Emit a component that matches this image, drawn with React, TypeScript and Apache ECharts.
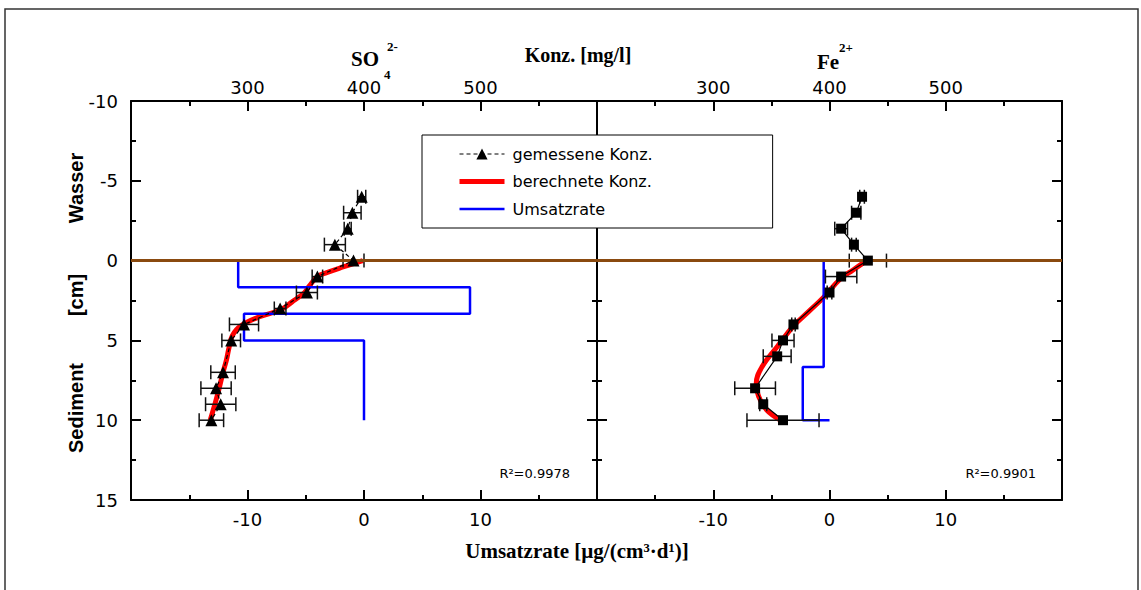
import React, { useEffect, useRef } from 'react';
import * as echarts from 'echarts';

// ---- data ----
// SO4 panel: measured concentration [mg/l] vs depth [cm]
const so4Depth = [-4, -3, -2, -1, 0, 1, 2, 3, 4, 5, 7, 8, 9, 10];
const so4Conc = [398, 390, 386, 375, 391, 360, 351, 328, 297, 286, 279, 273, 277, 269];
const so4Err = [3.5, 7.5, 3, 9, 9, 4.5, 9, 5, 12.5, 8, 10.5, 13, 13, 10.5];
// SO4 calculated concentration
const so4FitDepth = [0, 0.4, 0.75, 1.0, 1.6, 2.0, 2.6, 3.1, 3.5, 4.1, 4.7, 5.5, 6.2, 7.0, 8.2, 9.0, 10];
const so4FitConc = [399, 382, 368, 360, 353, 349, 338, 328, 311, 294, 287, 284, 282, 279, 275, 272, 268];
// SO4 turnover rate (step profile)
const so4RateDepth = [0, 1.67, 1.67, 3.33, 3.33, 5, 5, 10];
const so4Rate = [-10.8, -10.8, 9.1, 9.1, -10.3, -10.3, 0, 0];

// Fe panel
const feDepth = [-4, -3, -2, -1, 0, 1, 2, 4, 5, 6, 8, 9, 10];
const feConc = [428, 423, 410, 421, 433, 410, 400, 369, 360, 355, 336, 343, 360];
const feErr = [2, 4, 5.5, 2, 16, 13.5, 2, 1.5, 9.5, 12, 17.5, 3, 31];
const feFitDepth = [0.05, 0.6, 1.17, 2.3, 3.2, 4.1, 5.4, 6.65, 7.7, 8.5, 9.36, 10];
const feFitConc = [431, 420, 409, 395, 382, 369, 355, 342, 337, 339, 346, 358];
const feRateDepth = [0, 6.67, 6.67, 10, 10];
const feRate = [-0.5, -0.5, -2.3, -2.3, 0];

// axes
const depthMin = -10, depthMax = 15, depthStep = 5;
const concMin = 200, concMax = 600, concStep = 100;
const rateMin = -20, rateMax = 20, rateStep = 10;

const legendNames = ['gemessene Konz.', 'berechnete Konz.', 'Umsatzrate'];
const r2Labels = ['R²=0.9978', 'R²=0.9901'];

const SANS = 'DejaVu Sans';
const SERIF = 'Liberation Serif';
const BROWN = '#8a4a0f';

const zip = (xs: number[], ys: number[]) => xs.map((x, i) => [x, ys[i]]);

const errRender = (params: any, api: any) => {
  const lo = api.coord([api.value(0), api.value(2)]);
  const hi = api.coord([api.value(1), api.value(2)]);
  const h = 7;
  const style = { stroke: '#111', lineWidth: 1.5 };
  return {
    type: 'group',
    children: [
      { type: 'line', shape: { x1: lo[0], y1: lo[1], x2: hi[0], y2: hi[1] }, style },
      { type: 'line', shape: { x1: lo[0], y1: lo[1] - h, x2: lo[0], y2: lo[1] + h }, style },
      { type: 'line', shape: { x1: hi[0], y1: hi[1] - h, x2: hi[0], y2: hi[1] + h }, style },
    ],
  };
};

const axisBase = (extra: any) => ({
  type: 'value',
  axisLine: { show: true, onZero: false, lineStyle: { color: '#000', width: 2 } },
  axisTick: { show: true, inside: true, length: 10, lineStyle: { color: '#000', width: 2 } },
  minorTick: { show: true, splitNumber: 2, length: 5, lineStyle: { color: '#000', width: 2 } },
  splitLine: { show: false },
  minorSplitLine: { show: false },
  ...extra,
});

const labelStyle = (show: boolean, margin: number) => ({
  show,
  margin,
  color: '#000',
  fontFamily: SANS,
  fontSize: 18,
  showMinLabel: false,
  showMaxLabel: false,
});

export default function App() {
  const ref = useRef<HTMLDivElement>(null);
  useEffect(() => {
    if (!ref.current) return;
    const chart = echarts.init(ref.current, undefined, { renderer: 'svg' });

    const markLine = {
      silent: true,
      symbol: ['none', 'none'],
      label: { show: false },
      lineStyle: { color: BROWN, width: 3, type: 'solid' },
      data: [{ yAxis: 0 }],
    };

    const hiddenSymbol = { color: 'rgba(0,0,0,0)', borderWidth: 0, opacity: 0 };

    const option: any = {
      animation: false,
      backgroundColor: '#fff',
      grid: [
        { left: 131, top: 101, width: 466, height: 399 },
        { left: 597, top: 101, width: 465, height: 399 },
      ],
      xAxis: [
        axisBase({ gridIndex: 0, position: 'bottom', min: rateMin, max: rateMax, interval: rateStep, axisLabel: labelStyle(true, 10) }),
        axisBase({ gridIndex: 0, position: 'top', min: concMin, max: concMax, interval: concStep, axisLabel: labelStyle(true, 5) }),
        axisBase({ gridIndex: 1, position: 'bottom', min: rateMin, max: rateMax, interval: rateStep, axisLabel: labelStyle(true, 10) }),
        axisBase({ gridIndex: 1, position: 'top', min: concMin, max: concMax, interval: concStep, axisLabel: labelStyle(true, 5) }),
      ],
      yAxis: [
        axisBase({ gridIndex: 0, position: 'left', inverse: true, min: depthMin, max: depthMax, interval: depthStep,
          axisLabel: { ...labelStyle(true, 13), showMinLabel: true, showMaxLabel: true } }),
        axisBase({ gridIndex: 0, position: 'right', inverse: true, min: depthMin, max: depthMax, interval: depthStep, axisLabel: { show: false } }),
        axisBase({ gridIndex: 1, position: 'left', inverse: true, min: depthMin, max: depthMax, interval: depthStep, axisLabel: { show: false } }),
        axisBase({ gridIndex: 1, position: 'right', inverse: true, min: depthMin, max: depthMax, interval: depthStep, axisLabel: { show: false } }),
      ],
      legend: {
        show: true,
        orient: 'vertical',
        left: 422,
        top: 135,
        padding: [11, 120, 11, 35],
        itemWidth: 45,
        itemHeight: 14,
        itemGap: 11.5,
        backgroundColor: '#fff',
        borderColor: '#000',
        borderWidth: 1,
        borderRadius: 0,
        selectedMode: false,
        textStyle: { color: '#000', fontFamily: SANS, fontSize: 16, padding: [0, 0, 0, 3] },
        data: [
          { name: legendNames[0], lineStyle: { color: '#000', width: 1, type: [4, 3] } },
          { name: legendNames[1], lineStyle: { color: '#f00', width: 5 }, itemStyle: hiddenSymbol },
          { name: legendNames[2], lineStyle: { color: '#00f', width: 2.5 }, itemStyle: hiddenSymbol },
        ],
      },
      series: [
        {
          name: legendNames[0], type: 'line', xAxisIndex: 1, yAxisIndex: 0, z: 6,
          data: zip(so4Conc, so4Depth),
          symbol: 'triangle', symbolSize: 12,
          itemStyle: { color: '#000' },
          lineStyle: { color: '#000', width: 1.2, type: [4, 3] },
        },
        {
          name: legendNames[0], type: 'line', xAxisIndex: 3, yAxisIndex: 2, z: 6,
          data: zip(feConc, feDepth),
          symbol: 'rect', symbolSize: 10,
          itemStyle: { color: '#000' },
          lineStyle: { color: '#000', width: 1.2 },
        },
        {
          name: legendNames[1], type: 'line', xAxisIndex: 1, yAxisIndex: 0, z: 2,
          data: zip(so4FitConc, so4FitDepth), smooth: 0.4, symbol: 'none',
          lineStyle: { color: '#f00', width: 5 }, itemStyle: { color: '#f00' },
          markLine,
        },
        {
          name: legendNames[1], type: 'line', xAxisIndex: 3, yAxisIndex: 2, z: 2,
          data: zip(feFitConc, feFitDepth), smooth: 0.4, symbol: 'none',
          lineStyle: { color: '#f00', width: 5 }, itemStyle: { color: '#f00' },
          markLine,
        },
        {
          name: legendNames[2], type: 'line', xAxisIndex: 0, yAxisIndex: 0, z: 3,
          data: zip(so4Rate, so4RateDepth), symbol: 'none',
          lineStyle: { color: '#00f', width: 2.5 }, itemStyle: { color: '#00f' },
        },
        {
          name: legendNames[2], type: 'line', xAxisIndex: 2, yAxisIndex: 2, z: 3,
          data: zip(feRate, feRateDepth), symbol: 'none',
          lineStyle: { color: '#00f', width: 2.5 }, itemStyle: { color: '#00f' },
        },
        {
          name: 'err-so4', type: 'custom', xAxisIndex: 1, yAxisIndex: 0, z: 4,
          renderItem: errRender, encode: { x: [0, 1], y: 2 },
          data: so4Depth.map((d, i) => [so4Conc[i] - so4Err[i], so4Conc[i] + so4Err[i], d]),
        },
        {
          name: 'err-fe', type: 'custom', xAxisIndex: 3, yAxisIndex: 2, z: 4,
          renderItem: errRender, encode: { x: [0, 1], y: 2 },
          data: feDepth.map((d, i) => [feConc[i] - feErr[i], feConc[i] + feErr[i], d]),
        },
      ],
      graphic: [
        { type: 'rect', silent: true, z: -10, shape: { x: 5, y: 9, width: 1133, height: 700 },
          style: { fill: 'none', stroke: '#333', lineWidth: 1.5 } },
        { type: 'text', x: 578, y: 55, style: { text: 'Konz. [mg/l]', fill: '#000', font: `bold 20px "${SERIF}"`, textAlign: 'center', textVerticalAlign: 'middle' } },
        { type: 'text', x: 351, y: 59, style: { text: 'SO', fill: '#000', font: `bold 21px "${SERIF}"`, textAlign: 'left', textVerticalAlign: 'middle' } },
        { type: 'text', x: 384, y: 74, style: { text: '4', fill: '#000', font: `bold 13px "${SERIF}"`, textAlign: 'left', textVerticalAlign: 'middle' } },
        { type: 'text', x: 387, y: 46, style: { text: '2-', fill: '#000', font: `bold 13px "${SERIF}"`, textAlign: 'left', textVerticalAlign: 'middle' } },
        { type: 'text', x: 817, y: 62, style: { text: 'Fe', fill: '#000', font: `bold 21px "${SERIF}"`, textAlign: 'left', textVerticalAlign: 'middle' } },
        { type: 'text', x: 839, y: 47, style: { text: '2+', fill: '#000', font: `bold 13px "${SERIF}"`, textAlign: 'left', textVerticalAlign: 'middle' } },
        { type: 'text', x: 577, y: 551, style: { text: 'Umsatzrate [µg/(cm³·d¹)]', fill: '#000', font: `bold 21px "${SERIF}"`, textAlign: 'center', textVerticalAlign: 'middle' } },
        { type: 'text', x: 76, y: 188, rotation: Math.PI / 2, style: { text: 'Wasser', fill: '#000', font: 'bold 20px "Liberation Sans"', textAlign: 'center', textVerticalAlign: 'middle' } },
        { type: 'text', x: 76, y: 295, rotation: Math.PI / 2, style: { text: '[cm]', fill: '#000', font: 'bold 20px "Liberation Sans"', textAlign: 'center', textVerticalAlign: 'middle' } },
        { type: 'text', x: 76, y: 408, rotation: Math.PI / 2, style: { text: 'Sediment', fill: '#000', font: 'bold 20px "Liberation Sans"', textAlign: 'center', textVerticalAlign: 'middle' } },
        { type: 'text', x: 570, y: 473, style: { text: r2Labels[0], fill: '#000', font: `13px "${SANS}"`, textAlign: 'right', textVerticalAlign: 'middle' } },
        { type: 'text', x: 1036, y: 473, style: { text: r2Labels[1], fill: '#000', font: `13px "${SANS}"`, textAlign: 'right', textVerticalAlign: 'middle' } },
      ],
    };
    chart.setOption(option);
    return () => chart.dispose();
  }, []);
  return <div ref={ref} style={{ position: 'absolute', left: 0, top: 0, width: 1141, height: 590 }} />;
}
